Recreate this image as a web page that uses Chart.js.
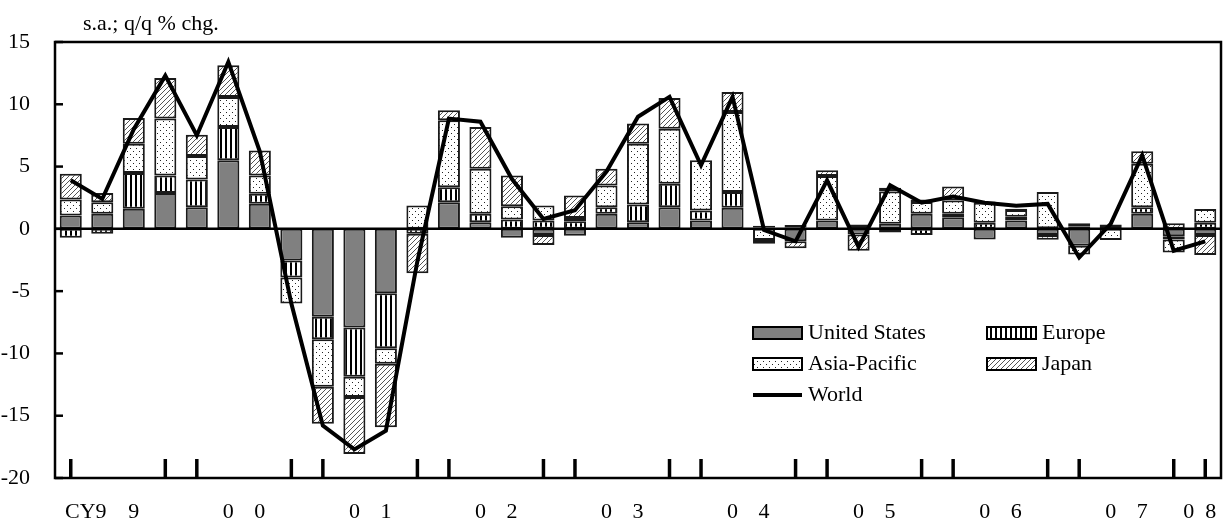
<!DOCTYPE html>
<html>
<head>
<meta charset="utf-8">
<script src="https://cdn.jsdelivr.net/npm/chart.js@4.4.0/dist/chart.umd.min.js"></script>
<style>
  html, body { margin: 0; padding: 0; background: #fff; }
  #wrap { width: 1226px; height: 521px; position: relative; }
</style>
</head>
<body>
<div id="wrap"><canvas id="chart"></canvas></div>
<script>
const quarters = [
  '99Q1','99Q2','99Q3','99Q4','00Q1','00Q2','00Q3','00Q4',
  '01Q1','01Q2','01Q3','01Q4','02Q1','02Q2','02Q3','02Q4',
  '03Q1','03Q2','03Q3','03Q4','04Q1','04Q2','04Q3','04Q4',
  '05Q1','05Q2','05Q3','05Q4','06Q1','06Q2','06Q3','06Q4',
  '07Q1','07Q2','07Q3','07Q4','08Q1'
];

// one label per quarter, digits of the year sit under Q2 / Q3
const tickLabels = [
  '', 'CY9\u00a0\u00a0\u00a0\u00a0\u00a0\u00a0', '9', '',
  '', '0', '0', '',
  '', '0', '1', '',
  '', '0', '2', '',
  '', '0', '3', '',
  '', '0', '4', '',
  '', '0', '5', '',
  '', '0', '6', '',
  '', '0', '7', '',
  '0\u00a0\u00a08\u00a0\u00a0'
];

const unitedStates = [
  1.07, 1.21, 1.61, 2.87, 1.74, 5.5, 2.01, -2.55,
  -7.06, -7.92, -5.16, null, 2.14, 0.54, -0.72, -0.5,
  -0.55, 1.21, 0.54, 1.74, 0.67, 1.69, 0.1, -1.0,
  0.67, -0.45, 0.4, 1.21, 0.94, -0.86, 0.67, -0.5,
  -1.35, 0.05, 1.21, -0.6, -0.5
];
const europe = [
  -0.72, -0.4, 2.87, 1.42, 2.23, 2.68, 0.8, -1.35,
  -1.8, -3.95, -4.42, -0.4, 1.21, 0.67, 0.75, 0.67,
  0.62, 0.53, 1.42, 1.88, 0.8, 1.26, 0.15, 0.1,
  -0.1, 0.15, -0.3, -0.5, 0.27, 0.5, 0.3, 0.05,
  0.2, 0.3, 0.53, -0.25, 0.5
];
const asiaPacific = [
  1.29, 0.93, 2.36, 4.56, 1.87, 2.41, 1.47, -2.09,
  -3.81, -1.63, -1.24, 1.88, 5.36, 3.62, 1.07, 1.2,
  0.26, 1.75, 4.88, 4.42, 4.03, 6.43, -0.9, 0.2,
  3.57, 0.2, 2.6, 0.95, 1.07, 1.6, 0.55, 2.9,
  -0.7, -0.9, 3.49, -1.05, 1.1
];
const japan = [
  2.06, 0.73, 2.06, 3.27, 1.72, 2.55, 2.01, null,
  -2.98, -4.57, -5.1, -3.17, 0.81, 3.35, 2.47, -0.8,
  1.8, 1.34, 1.61, 2.47, null, 1.61, -0.3, -0.55,
  0.46, -1.3, 0.3, 0.2, 1.12, 0.1, 0.1, -0.38,
  0.25, null, 0.99, 0.45, -1.6
];
const world = [
  3.9, 2.4, 8.0, 12.3, 7.5, 13.4, 6.2, -6.0,
  -15.8, -17.7, -16.2, -2.6, 8.85, 8.6, 4.0, 0.8,
  1.5, 4.6, 9.0, 10.6, 5.1, 10.6, -0.1, -1.0,
  3.9, -1.45, 3.5, 2.1, 2.6, 2.1, 1.85, 2.0,
  -2.3, 0.4, 5.9, -1.75, -1.0
];

const yTicks = { min: -20, max: 15, step: 5 };
const unitText = 's.a.; q/q % chg.';
const serif = "'Liberation Serif', 'Times New Roman', serif";

function makePattern(kind) {
  const c = document.createElement('canvas');
  const g = c.getContext('2d');
  if (kind === 'stripes') {
    c.width = 5; c.height = 5;
    g.fillStyle = '#fff'; g.fillRect(0, 0, 5, 5);
    g.fillStyle = '#000'; g.fillRect(0, 0, 2, 5);
  } else if (kind === 'dots') {
    c.width = 6; c.height = 6;
    g.fillStyle = '#fff'; g.fillRect(0, 0, 6, 6);
    g.fillStyle = '#222';
    g.fillRect(1, 1, 1, 1);
    g.fillRect(4, 4, 1, 1);
  } else {
    c.width = 5; c.height = 5;
    g.fillStyle = '#fff'; g.fillRect(0, 0, 5, 5);
    g.strokeStyle = '#555'; g.lineWidth = 1;
    g.beginPath();
    g.moveTo(-1, 6); g.lineTo(6, -1);
    g.moveTo(-1, 1); g.lineTo(1, -1);
    g.moveTo(4, 6); g.lineTo(6, 4);
    g.stroke();
  }
  return g.createPattern(c, 'repeat');
}

const barBase = {
  type: 'bar',
  stack: 'regions',
  order: 1,
  borderColor: '#1a1a1a',
  borderWidth: 2,
  borderSkipped: false,
  barPercentage: 0.7,
  categoryPercentage: 1.0,
};

// draws zero line, frame, inward ticks, quarter marks, unit text and legend
const framePlugin = {
  id: 'frame',
  beforeDatasetDraw(chart, args) {
    if (args.meta.type !== 'line') return;
    const { ctx, chartArea: a, scales: { y } } = chart;
    const y0 = y.getPixelForValue(0);
    ctx.save();
    ctx.strokeStyle = '#000';
    ctx.lineWidth = 2.5;
    ctx.beginPath();
    ctx.moveTo(a.left, y0);
    ctx.lineTo(a.right, y0);
    ctx.stroke();
    ctx.restore();
  },
  afterDatasetsDraw(chart) {
    const { ctx, chartArea: a, scales: { x, y } } = chart;
    ctx.save();
    ctx.strokeStyle = '#000';
    ctx.lineWidth = 2.5;
    ctx.strokeRect(a.left, a.top, a.right - a.left, a.bottom - a.top);

    // y ticks point into the plot
    y.ticks.forEach(t => {
      const py = y.getPixelForValue(t.value);
      ctx.beginPath();
      ctx.moveTo(a.left, py);
      ctx.lineTo(a.left + 8, py);
      ctx.stroke();
    });

    // marks at Q1 and Q4 of each year
    ctx.lineWidth = 3.5;
    quarters.forEach((q, i) => {
      if (!q.endsWith('Q1') && !q.endsWith('Q4')) return;
      const px = x.getPixelForValue(i);
      ctx.beginPath();
      ctx.moveTo(px, a.bottom);
      ctx.lineTo(px, a.bottom - 19);
      ctx.stroke();
    });
    ctx.restore();
  },
  afterDraw(chart) {
    const { ctx, chartArea: a } = chart;
    ctx.save();
    ctx.fillStyle = '#000';
    ctx.font = '22px ' + serif;
    ctx.textBaseline = 'alphabetic';
    ctx.fillText(unitText, a.left + 28, a.top - 12);

    const ds = chart.data.datasets;
    const slots = [[0, 0, 0], [1, 1, 0], [2, 0, 1], [3, 1, 1], [4, 0, 2]];
    slots.forEach(([di, col, row]) => {
      const d = ds[di];
      const bx = a.left + 698 + col * 234;
      const base = a.top + 297 + row * 31;
      if (d.type === 'line') {
        ctx.strokeStyle = '#000';
        ctx.lineWidth = 4;
        ctx.beginPath();
        ctx.moveTo(bx, base - 6);
        ctx.lineTo(bx + 49, base - 6);
        ctx.stroke();
      } else {
        ctx.fillStyle = d.backgroundColor;
        ctx.fillRect(bx, base - 12, 49, 12);
        ctx.strokeStyle = '#000';
        ctx.lineWidth = 2;
        ctx.strokeRect(bx, base - 12, 49, 12);
      }
      ctx.fillStyle = '#000';
      ctx.fillText(d.label, bx + 55, base);
    });
    ctx.restore();
  }
};

const ctx = document.getElementById('chart').getContext('2d');

new Chart(ctx, {
  data: {
    labels: quarters,
    datasets: [
      { ...barBase, label: 'United States', data: unitedStates, backgroundColor: '#808080' },
      { ...barBase, label: 'Europe', data: europe, backgroundColor: makePattern('stripes') },
      { ...barBase, label: 'Asia-Pacific', data: asiaPacific, backgroundColor: makePattern('dots') },
      { ...barBase, label: 'Japan', data: japan, backgroundColor: makePattern('hatch') },
      {
        type: 'line',
        label: 'World',
        data: world,
        order: 0,
        borderColor: '#000',
        borderWidth: 4,
        pointRadius: 0,
        tension: 0,
        fill: false,
      }
    ]
  },
  options: {
    responsive: true,
    maintainAspectRatio: false,
    animation: false,
    layout: { padding: { top: 42, right: 5, left: 0, bottom: 0 } },
    plugins: {
      legend: { display: false },
      tooltip: { enabled: false },
    },
    scales: {
      x: {
        stacked: true,
        offset: true,
        grid: { display: false },
        border: { display: false },
        ticks: {
          autoSkip: false,
          maxRotation: 0,
          minRotation: 0,
          padding: 13,
          color: '#000',
          font: { family: serif, size: 22 },
          callback: (val, i) => tickLabels[i],
        },
        afterFit: (s) => { s.height = 43; s.paddingLeft = 0; s.paddingRight = 0; },
      },
      y: {
        stacked: true,
        min: yTicks.min,
        max: yTicks.max,
        grid: { display: false },
        border: { display: false },
        ticks: {
          stepSize: yTicks.step,
          padding: 17,
          color: '#000',
          font: { family: serif, size: 22 },
        },
        afterFit: (s) => { s.width = 55; },
      }
    }
  },
  plugins: [framePlugin]
});
</script>
</body>
</html>
